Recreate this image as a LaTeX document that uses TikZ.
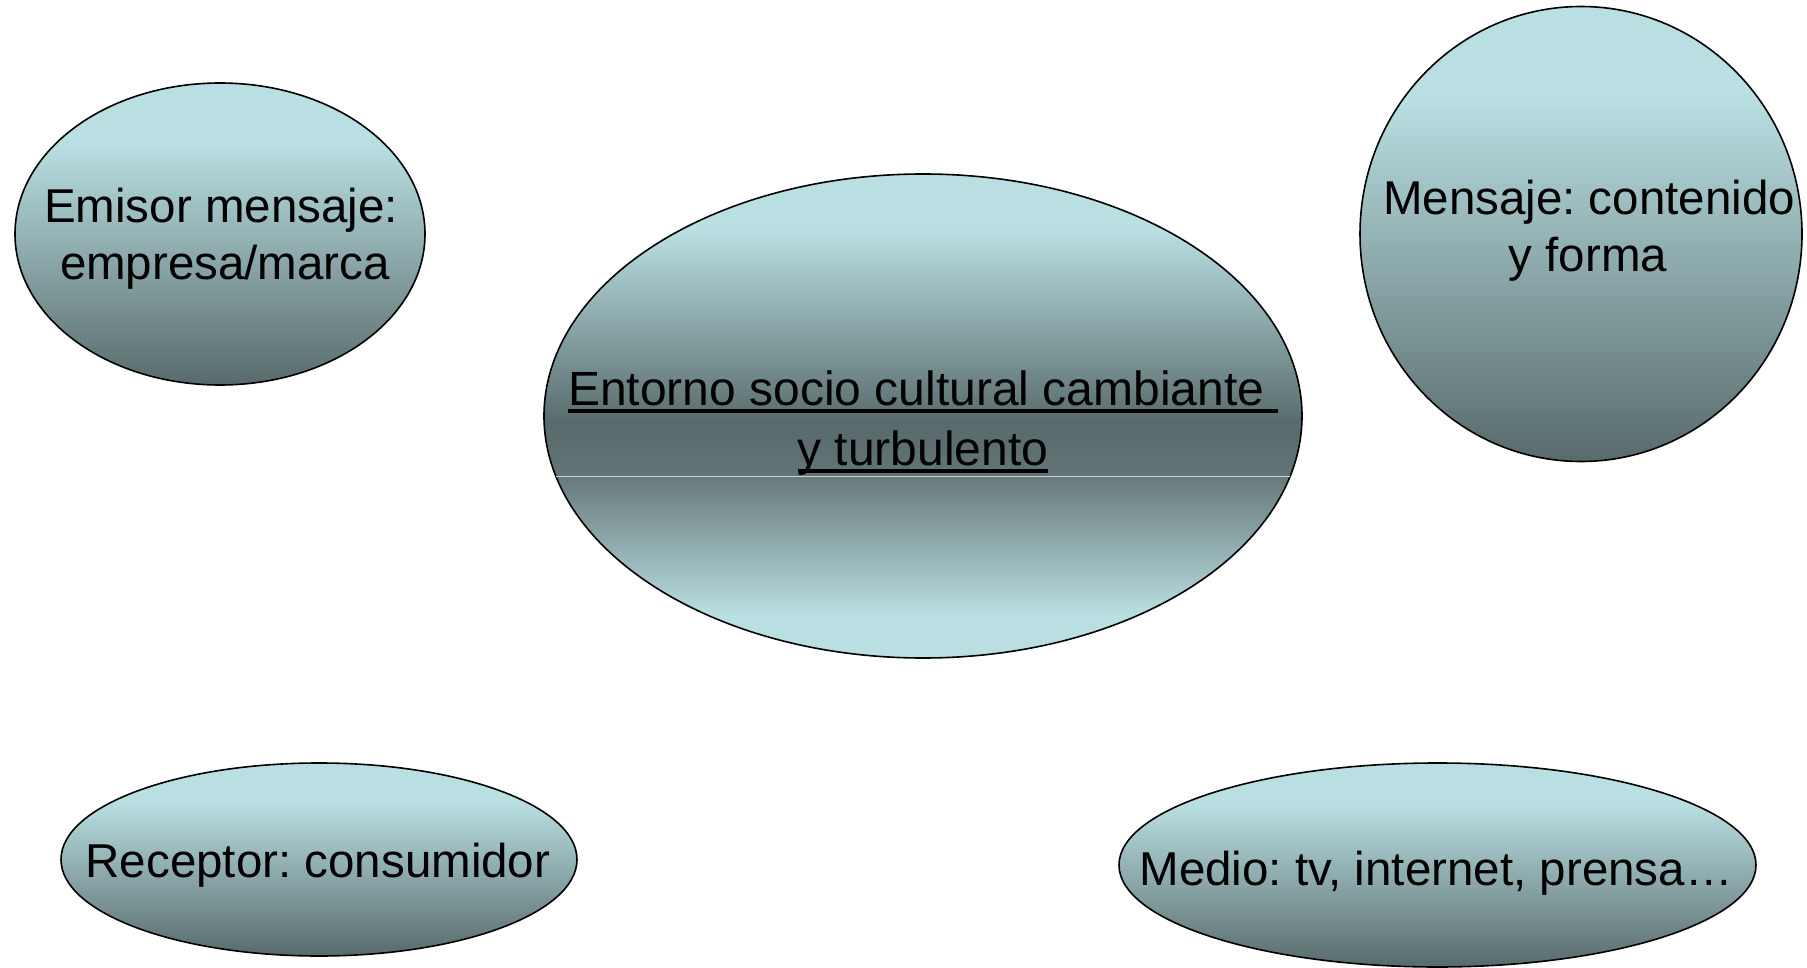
\documentclass[tikz,border=0pt]{standalone}
\usepackage{fontspec}
\setmainfont{Liberation Sans}
\usetikzlibrary{shapes.geometric,calc}
\frenchspacing
\definecolor{lt}{RGB}{185,223,226}
\definecolor{dk}{RGB}{88,106,107}
\definecolor{cupper}{RGB}{98,116,117}
\definecolor{clower}{RGB}{104,122,123}
\definecolor{divc}{RGB}{200,210,210}
\pgfdeclareverticalshading{outer}{100bp}{color(0bp)=(dk); color(25bp)=(dk); color(65bp)=(lt); color(100bp)=(lt)}
\pgfdeclareverticalshading{central}{100bp}{color(0bp)=(lt); color(29.4bp)=(lt); color(43.7bp)=(clower); color(43.9bp)=(cupper); color(49.1bp)=(dk); color(69.2bp)=(lt); color(100bp)=(lt)}
\newsavebox\ulbox
\newcommand\myul[1]{\sbox\ulbox{#1}\rlap{\rule[-8pt]{\wd\ulbox}{4pt}}\usebox\ulbox}
\begin{document}
\begin{tikzpicture}[x=1pt,y=-1pt,
  bubble/.style={ellipse, draw=black, line width=1.6pt, shade, shading=outer, inner sep=0pt, outer sep=0pt},
  lbl/.style={anchor=base, inner sep=0pt, font=\fontsize{47.5}{57}\selectfont, text=black},
  divider/.style={draw=divc, line width=1pt}]
\useasboundingbox (0,0) rectangle (1807,968);
% bubbles
\node[bubble, minimum width=410pt, minimum height=302pt] (emisor) at (220,234) {};
\node[bubble, shading=central, minimum width=758pt, minimum height=484pt] (central) at (923,416) {};
\node[bubble, minimum width=442pt, minimum height=455pt] (mensaje) at (1581,234) {};
\node[bubble, minimum width=516pt, minimum height=193pt] (receptor) at (319,859.5) {};
\node[bubble, minimum width=637pt, minimum height=204pt] (medio) at (1437.5,865) {};
% divider of the central bubble
\draw[divider] ([shift={(-367,60)}]central.center) -- ([shift={(367,60)}]central.center);
% labels
\node[lbl] (emisor1) at (221,223) {Emisor mensaje:};
\node[lbl] (emisor2) at (225,280) {empresa/marca};
\node[lbl] (mensaje1) at (1589,215) {Mensaje: contenido};
\node[lbl] (mensaje2) at (1588,272) {y forma};
\node[lbl] (receptor1) at (318,877) {Receptor: consumidor};
\node[lbl] (medio1) at (1436,885) {Medio: tv, internet, prensa…};
\node[lbl, font=\fontsize{48}{58}\selectfont] (central1) at (923,405) {\myul{Entorno socio cultural cambiante\ }};
\node[lbl, font=\fontsize{48}{58}\selectfont] (central2) at (923,465) {\myul{y turbulento}};
\end{tikzpicture}
\end{document}
